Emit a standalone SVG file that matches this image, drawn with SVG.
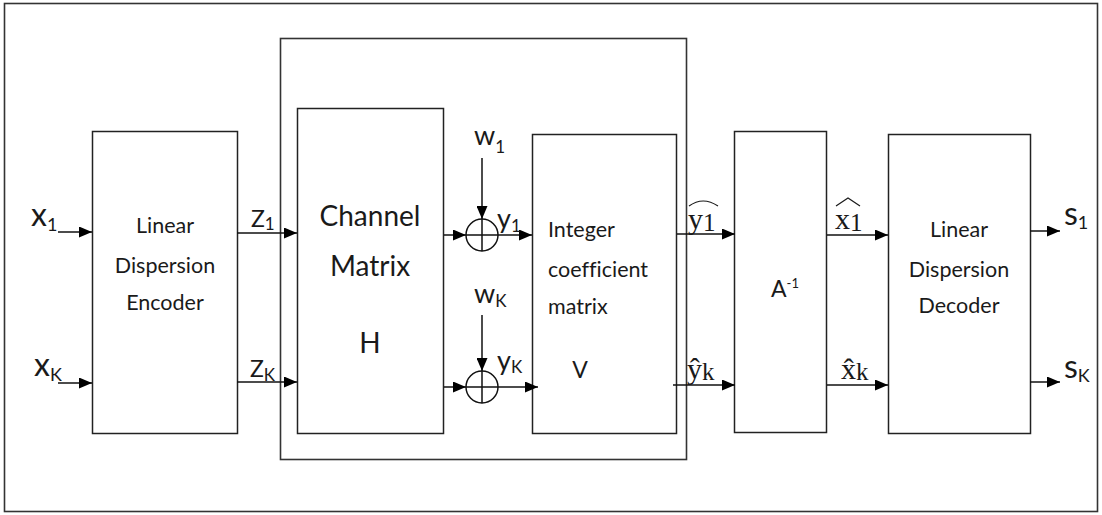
<svg xmlns="http://www.w3.org/2000/svg" width="1102" height="515" viewBox="0 0 1102 515">
<style>
.box{fill:#fff;stroke:#222;stroke-width:1.5}
.frame{fill:none;stroke:#333;stroke-width:1.6}
.t{font-family:Lato,"Open Sans",sans-serif;fill:#1a1a1a;font-variant-ligatures:none}
.m{font-family:"Liberation Serif",serif;fill:#1a1a1a}
.c{stroke:#111;stroke-width:1.5;fill:none}
.hat{stroke:#1a1a1a;stroke-width:1.2;fill:none}
</style>
<defs>
<marker id="ah" markerUnits="userSpaceOnUse" markerWidth="13" markerHeight="11" refX="13" refY="5.5" orient="auto">
<path d="M0,0 L13,5.5 L0,11 z" fill="#000"/>
</marker>
</defs>
<rect width="1102" height="515" fill="#fff"/>
<rect class="frame" x="4.5" y="3.5" width="1093" height="508"/>
<g id="group-box"><rect class="frame" x="280.5" y="38.5" width="406" height="421"/></g>

<g id="encoder">
<rect class="box" x="92.5" y="131.5" width="145" height="302"/>
<text class="t" font-size="21.5" text-anchor="middle" x="165" y="233">Linear</text>
<text class="t" font-size="21.5" text-anchor="middle" x="165" y="273">Dispersion</text>
<text class="t" font-size="21.5" text-anchor="middle" x="165" y="310">Encoder</text>
</g>
<g id="channel">
<rect class="box" x="297.5" y="108.5" width="146" height="325"/>
<text class="t" font-size="28" text-anchor="middle" x="370" y="226">Channel</text>
<text class="t" font-size="28" text-anchor="middle" x="370" y="276">Matrix</text>
<text class="t" font-size="28" text-anchor="middle" x="370" y="353">H</text>
</g>
<g id="integer">
<rect class="box" x="532.5" y="134.5" width="144" height="299"/>
<text class="t" font-size="21.5" x="548" y="237">Integer</text>
<text class="t" font-size="21.5" x="548" y="277">coefficient</text>
<text class="t" font-size="21.5" x="548" y="314">matrix</text>
<text class="t" font-size="23" text-anchor="middle" x="580" y="378">V</text>
</g>
<g id="ainv">
<rect class="box" x="734.5" y="131.5" width="92" height="301"/>
<text class="t" font-size="23" x="771" y="297">A<tspan font-size="13" dy="-9">-1</tspan></text>
</g>
<g id="decoder">
<rect class="box" x="888.5" y="134.5" width="142" height="299"/>
<text class="t" font-size="21.5" text-anchor="middle" x="959" y="237">Linear</text>
<text class="t" font-size="21.5" text-anchor="middle" x="959" y="277">Dispersion</text>
<text class="t" font-size="21.5" text-anchor="middle" x="959" y="313">Decoder</text>
</g>
<g id="adder1">
<circle class="c" cx="482" cy="235" r="16"/>
<path class="c" d="M466,235 H498 M482,219 V251"/>
</g>
<g id="adder2">
<circle class="c" cx="482" cy="387" r="16"/>
<path class="c" d="M466,387 H498 M482,371 V403"/>
</g>

<g id="connectors" class="c" marker-end="url(#ah)">
<path d="M58,232 H92"/>
<path d="M58,383 H92"/>
<path d="M237,233 H297"/>
<path d="M237,382 H297"/>
<path d="M444,235 H466"/>
<path d="M444,387 H466"/>
<path d="M482,158 V219"/>
<path d="M482,315 V371"/>
<path d="M498,235 H532"/>
<path d="M498,387 H538"/>
<path d="M677,234 H735"/>
<path d="M673,385 H735"/>
<path d="M827,235 H888"/>
<path d="M827,385 H888"/>
<path d="M1030,231 H1060"/>
<path d="M1030,382 H1060"/>
</g>

<g id="labels">
<text class="t" font-size="32" x="31" y="226">x<tspan font-size="18" dy="5">1</tspan></text>
<text class="t" font-size="32" x="34" y="376">x<tspan font-size="18" dy="5">K</tspan></text>
<text class="t" font-size="23" x="251" y="227">Z<tspan font-size="17" dy="3">1</tspan></text>
<text class="t" font-size="23" x="250" y="377">Z<tspan font-size="17" dy="4">K</tspan></text>
<text class="t" font-size="27" x="474" y="145">w<tspan font-size="17" dy="8">1</tspan></text>
<text class="t" font-size="27" x="474" y="303">w<tspan font-size="17" dy="4">K</tspan></text>
<text class="t" font-size="27" x="497" y="228">y<tspan font-size="17" dy="4">1</tspan></text>
<text class="t" font-size="27" x="497" y="370">y<tspan font-size="17" dy="3">K</tspan></text>
<text class="t" font-size="32" x="1064" y="225">s<tspan font-size="18" dy="4">1</tspan></text>
<text class="t" font-size="32" x="1064" y="378">s<tspan font-size="18" dy="4">K</tspan></text>
<text class="m" font-size="30" x="688" y="229">y<tspan font-size="25" dy="2">1</tspan></text>
<path class="hat" d="M689,206 Q703,196 718,206"/>
<text class="m" font-size="30" x="687" y="379">ŷ<tspan font-size="25" dy="1">k</tspan></text>
<text class="m" font-size="30" x="835" y="229">x<tspan font-size="25" dy="2">1</tspan></text>
<path class="hat" d="M836,206 L848,198 L860,206"/>
<text class="m" font-size="30" x="841" y="379">x̂<tspan font-size="25" dy="1">k</tspan></text>
</g>
</svg>
